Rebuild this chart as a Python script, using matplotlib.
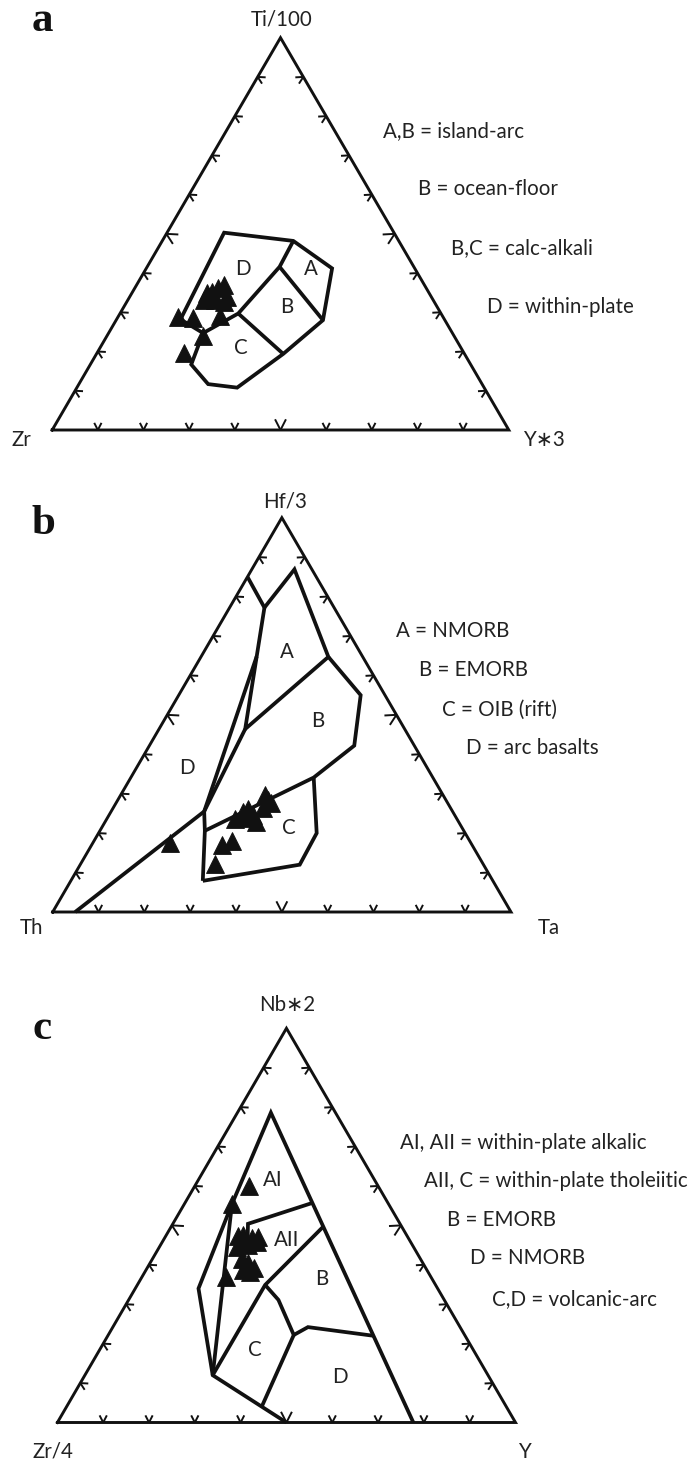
import numpy as np
import matplotlib
matplotlib.use("Agg")
import matplotlib.pyplot as plt

plt.rcParams['font.family'] = ['Lato', 'DejaVu Sans']

FIG_W, FIG_H, DPI = 691, 1462, 100

# ---------------------------------------------------------------------------
# Panel a : Ti/100 - Zr - Y*3  (values as top, left, right percentages)
# ---------------------------------------------------------------------------
a_ti = [28.7, 28.5, 29.1, 24.0, 19.6, 34.8, 35.3, 36.1, 37.0, 34.0, 33.1, 33.1, 32.7, 34.0]
a_zr = [58.0, 54.9, 48.6, 55.0, 61.4, 48.7, 47.4, 45.6, 43.9, 44.7, 50.3, 47.8, 46.0, 48.5]
a_y3 = [13.3, 16.6, 22.3, 21.0, 19.0, 16.5, 17.3, 18.3, 19.1, 21.3, 16.6, 19.1, 21.3, 17.5]

a_fields = [
    # outer envelope
    [(28.2, 57.8, 14.0), (50.3, 37.2, 12.5), (48.2, 23.1, 28.7), (41.2, 18.1, 40.7),
     (28.0, 26.7, 45.3), (19.4, 39.7, 40.9), (10.8, 54.1, 35.1), (11.7, 60.0, 28.3),
     (16.7, 61.2, 22.1), (24.7, 54.6, 20.7), (28.2, 57.8, 14.0)],
    # D / C and D / B, D / A
    [(24.7, 54.6, 20.7), (29.7, 44.4, 25.9), (41.6, 29.4, 29.0), (48.2, 23.1, 28.7)],
    # A / B
    [(41.6, 29.4, 29.0), (28.0, 26.7, 45.3)],
    # B / C
    [(29.7, 44.4, 25.9), (19.4, 39.7, 40.9)],
]
a_axis = ["Ti/100", "Zr", "Y\u22173"]
a_key = ["A,B = island-arc", "B = ocean-floor", "B,C = calc-alkali", "D = within-plate"]
a_regions = ["D", "A", "B", "C"]

# ---------------------------------------------------------------------------
# Panel b : Hf/3 - Th - Ta
# ---------------------------------------------------------------------------
b_hf = [17.5, 12.2, 16.9, 18.0, 23.7, 25.4, 26.1, 24.6, 22.8, 23.8, 26.4, 29.7, 28.3, 27.6]
b_th = [65.6, 58.5, 54.7, 51.9, 48.4, 45.8, 44.3, 44.0, 44.2, 45.8, 40.9, 38.9, 38.8, 38.6]
b_ta = [16.9, 29.3, 28.4, 30.1, 27.9, 28.8, 29.6, 31.4, 33.0, 30.4, 32.7, 31.5, 32.9, 33.8]

b_fields = [
    # arc basalt boundary
    [(0.0, 95.1, 4.9), (25.5, 54.2, 20.3), (64.8, 23.1, 12.1)],
    [(85.0, 15.0, 0.0), (77.2, 15.2, 7.6)],
    # A field (N-MORB)
    [(77.2, 15.2, 7.6), (86.9, 3.8, 9.3), (64.7, 7.5, 27.8), (46.4, 34.8, 18.8), (77.2, 15.2, 7.6)],
    # B field (E-MORB)
    [(64.7, 7.5, 27.8), (55.0, 5.3, 39.7), (42.2, 13.1, 44.7), (34.1, 26.0, 39.9), (20.6, 56.5, 22.9)],
    [(46.4, 34.8, 18.8), (25.5, 54.2, 20.3), (20.6, 56.5, 22.9), (7.9, 63.3, 28.8)],
    # C field (OIB)
    [(34.1, 26.0, 39.9), (20.0, 32.4, 47.6), (12.0, 40.1, 47.9), (7.9, 63.3, 28.8)],
]
b_axis = ["Hf/3", "Th", "Ta"]
b_key = ["A = NMORB", "B = EMORB", "C = OIB (rift)", "D = arc basalts"]
b_regions = ["A", "B", "C", "D"]

# ---------------------------------------------------------------------------
# Panel c : Nb*2 - Zr/4 - Y
# ---------------------------------------------------------------------------
c_nb = [59.9, 55.4, 36.8, 47.2, 47.6, 46.8, 47.1, 45.4, 45.0, 44.6, 45.8, 41.6, 40.3, 39.1, 38.7, 38.3]
c_zr = [28.3, 34.2, 44.7, 36.9, 35.6, 34.2, 32.7, 37.4, 35.8, 38.5, 33.6, 39.0, 38.2, 37.6, 40.1, 38.8]
c_y = [11.8, 10.4, 18.5, 15.9, 16.8, 19.0, 20.3, 17.2, 19.2, 16.9, 20.6, 19.4, 21.4, 23.3, 21.2, 22.9]

c_fields = [
    # outer envelope
    [(0.0, 50.0, 50.0), (12.0, 60.1, 27.9), (34.0, 52.2, 13.8), (55.4, 34.2, 10.4),
     (78.6, 14.1, 7.3), (0.0, 22.3, 77.7)],
    [(55.4, 34.2, 10.4), (12.0, 60.1, 27.9)],
    # AI / AII
    [(55.7, 16.5, 27.8), (50.4, 33.2, 16.4), (45.0, 36.0, 19.0)],
    # AII / C, AII / B
    [(12.0, 60.1, 27.9), (34.9, 37.2, 27.9), (49.7, 17.1, 33.2)],
    # C / B, B / D
    [(34.9, 37.2, 27.9), (31.1, 36.2, 32.7), (22.2, 37.3, 40.5), (24.2, 33.2, 42.6), (22.0, 20.0, 58.0)],
    # C / D
    [(22.2, 37.3, 40.5), (4.0, 53.4, 42.6)],
]
c_axis = ["Nb\u22172", "Zr/4", "Y"]
c_key = ["AI, AII = within-plate alkalic", "AII, C = within-plate tholeiitic",
         "B = EMORB", "D = NMORB", "C,D = volcanic-arc"]
c_regions = ["AI", "AII", "B", "C", "D"]

# ---------------------------------------------------------------------------
# layout (pixel geometry of each triangle and its annotations)
# ---------------------------------------------------------------------------
panels = [
    dict(letter="a", samples=(a_ti, a_zr, a_y3), fields=a_fields, axis=a_axis,
         key=a_key, regions=a_regions,
         tri=(52.2, 430.0, 456.6, 392.3),
         letter_xy=(42, 21),
         axis_xy=[(282, 20), (21, 440), (544, 440)],
         key_xy=[(383, 130), (418, 188), (451, 247), (487, 306)],
         region_xy=[(242.5, 268), (311, 268), (286.7, 306), (241, 347)]),
    dict(letter="b", samples=(b_hf, b_th, b_ta), fields=b_fields, axis=b_axis,
         key=b_key, regions=b_regions,
         tri=(52.7, 912.0, 458.3, 394.3),
         letter_xy=(43, 524),
         axis_xy=[(285, 502), (31, 928), (549, 928)],
         key_xy=[(396, 630), (419.5, 669), (442.5, 709), (465.5, 747)],
         region_xy=[(286.7, 651), (317.7, 720), (289, 827), (186.7, 767)]),
    dict(letter="c", samples=(c_nb, c_zr, c_y), fields=c_fields, axis=c_axis,
         key=c_key, regions=c_regions,
         tri=(57.4, 1422.5, 458.1, 394.2),
         letter_xy=(42, 1029),
         axis_xy=[(287, 1005), (53, 1452), (524, 1452)],
         key_xy=[(400.5, 1142), (424, 1180), (447, 1219), (470, 1257), (492, 1298)],
         region_xy=[(273, 1179), (287, 1239), (322, 1278), (254.4, 1349), (339.5, 1376)]),
]

LABEL_SIZE = 14.8
LINE_C = "#111111"
TEXT_C = "#222222"


def tern_xy(top, left, right):
    top = np.asarray(top, float)
    left = np.asarray(left, float)
    right = np.asarray(right, float)
    s = top + left + right
    return (right + top / 2.0) / s, top / s


def fig_xy(px, py):
    return px / FIG_W, 1.0 - py / FIG_H


fig = plt.figure(figsize=(FIG_W / DPI, FIG_H / DPI), dpi=DPI)
fig.patch.set_facecolor("white")

for p in panels:
    x0, y0, w, h = p["tri"]
    ax = fig.add_axes([x0 / FIG_W, 1 - y0 / FIG_H, w / FIG_W, h / FIG_H])
    ax.set_xlim(0, 1)
    ax.set_ylim(0, 1)
    ax.axis("off")

    # triangle frame
    ax.plot([0, 1, 0.5, 0], [0, 0, 1, 0], color=LINE_C, lw=2.1,
            solid_joinstyle="miter", clip_on=False, zorder=2)

    # arrow-head ticks every 10 %, pointing outward from each side
    half = np.radians(27)
    sides = [
        (lambda f: (f, 0.0), 90.0),            # base
        (lambda f: (f / 2.0, f), -30.0),       # left side
        (lambda f: (1 - f / 2.0, f), 210.0),   # right side
    ]
    for pos, normal in sides:
        for k in range(1, 10):
            f = k / 10.0
            L = 12.0 if k == 5 else 8.0
            bx, by = pos(f)
            a0 = np.radians(normal)
            for sgn in (-1, 1):
                ang = a0 + sgn * half
                dx = L * np.cos(ang) / w
                dy = L * np.sin(ang) / h
                ax.plot([bx, bx + dx], [by, by + dy], color=LINE_C, lw=1.4,
                        solid_capstyle="butt", clip_on=False, zorder=2)

    # discrimination field boundaries
    for line in p["fields"]:
        t, l, r = zip(*line)
        fx, fy = tern_xy(t, l, r)
        ax.plot(fx, fy, color=LINE_C, lw=2.7, solid_joinstyle="miter",
                solid_capstyle="butt", clip_on=False, zorder=3)

    # samples
    st, sl, sr = p["samples"]
    sx, sy = tern_xy(st, sl, sr)
    ax.plot(sx, sy, linestyle="none", marker="^", ms=12.5, color="#111111",
            markeredgewidth=0.6, markeredgecolor="#111111", clip_on=False, zorder=4)

    # text
    lx, ly = fig_xy(*p["letter_xy"])
    fig.text(lx, ly, p["letter"], family="Liberation Serif", weight="bold",
             fontsize=31, ha="center", va="center", color="#111111")
    for lab, (px, py) in zip(p["axis"], p["axis_xy"]):
        tx, ty = fig_xy(px, py)
        fig.text(tx, ty, lab, fontsize=LABEL_SIZE, ha="center", va="center",
                 color=TEXT_C)
    for lab, (px, py) in zip(p["key"], p["key_xy"]):
        tx, ty = fig_xy(px, py + 7.3)
        fig.text(tx, ty, lab, fontsize=LABEL_SIZE, ha="left", va="baseline",
                 color=TEXT_C)
    for lab, (px, py) in zip(p["regions"], p["region_xy"]):
        tx, ty = fig_xy(px, py + 7.3)
        fig.text(tx, ty, lab, fontsize=LABEL_SIZE, ha="center", va="baseline",
                 color=TEXT_C)

fig.savefig("out.png", dpi=DPI, facecolor="white")
